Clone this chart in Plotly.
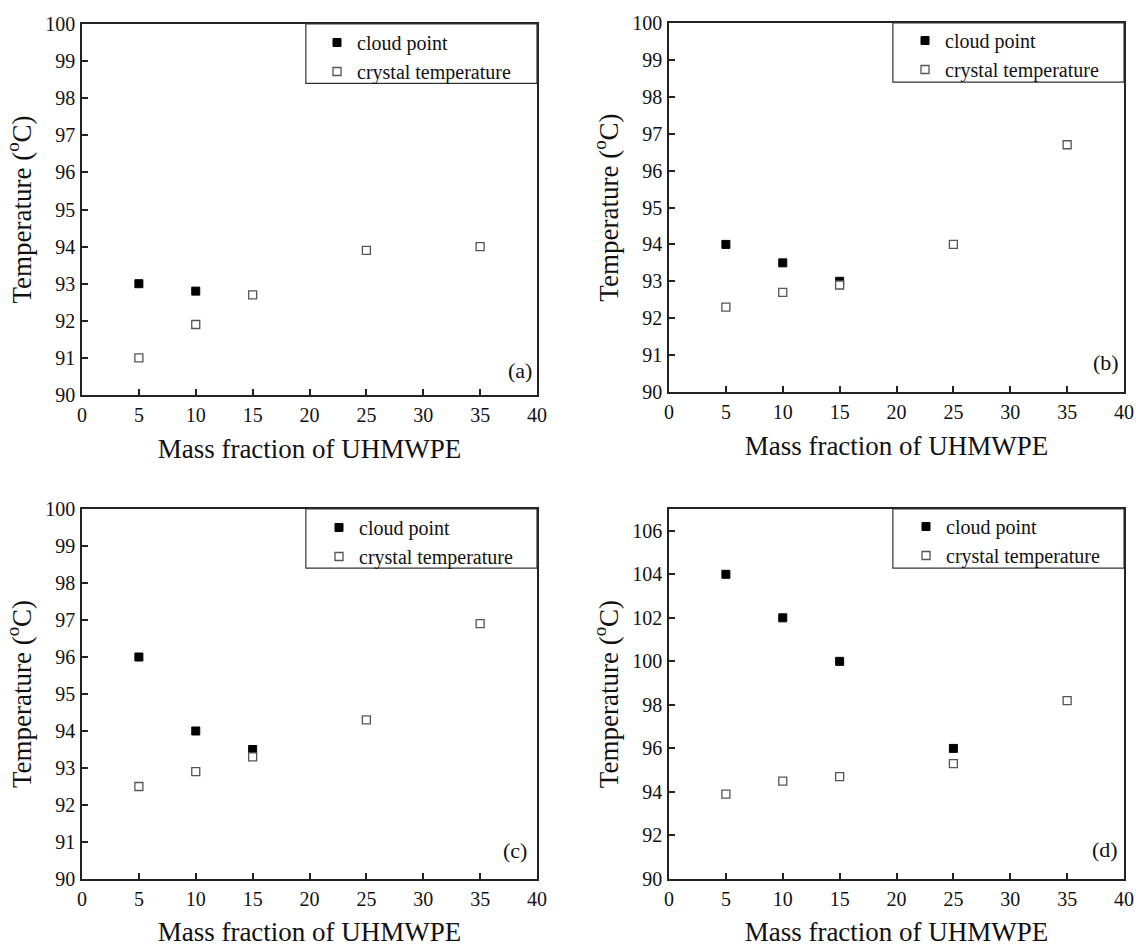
import plotly.graph_objects as go

# ---------------- data ----------------
mass_fraction = [5, 10, 15, 25, 35]

cloud_x_a = [5, 10]
cloud_y_a = [93.0, 92.8]
crystal_y_a = [91.0, 91.9, 92.7, 93.9, 94.0]

cloud_x_b = [5, 10, 15]
cloud_y_b = [94.0, 93.5, 93.0]
crystal_y_b = [92.3, 92.7, 92.9, 94.0, 96.7]

cloud_x_c = [5, 10, 15]
cloud_y_c = [96.0, 94.0, 93.5]
crystal_y_c = [92.5, 92.9, 93.3, 94.3, 96.9]

cloud_x_d = [5, 10, 15, 25]
cloud_y_d = [104.0, 102.0, 100.0, 96.0]
crystal_y_d = [93.9, 94.5, 94.7, 95.3, 98.2]

panel_labels = ["(a)", "(b)", "(c)", "(d)"]
x_title = "Mass fraction of UHMWPE"
y_title = "Temperature (<sup>o</sup>C)"
series_names = ["cloud point", "crystal temperature"]

W, H = 1136, 947
FONT = "Liberation Serif"

panels = [
    dict(cx=cloud_x_a, cy=cloud_y_a, ty=crystal_y_a, yr=[90, 100], dt=1,
         px=(82, 537), py=(24, 395), leg=(317, 23), lab=(0.963, 0.067)),
    dict(cx=cloud_x_b, cy=cloud_y_b, ty=crystal_y_b, yr=[90, 100], dt=1,
         px=(669, 1124), py=(23, 392), leg=(905, 21), lab=(0.960, 0.079)),
    dict(cx=cloud_x_c, cy=cloud_y_c, ty=crystal_y_c, yr=[90, 100], dt=1,
         px=(82, 537), py=(509, 879), leg=(319, 508), lab=(0.952, 0.078)),
    dict(cx=cloud_x_d, cy=cloud_y_d, ty=crystal_y_d, yr=[90, 107], dt=2,
         px=(669, 1124), py=(509, 879), leg=(906, 507), lab=(0.958, 0.081)),
]

fig = go.Figure()
layout = dict(
    width=W, height=H,
    margin=dict(l=0, r=0, t=0, b=0, autoexpand=False),
    paper_bgcolor="white", plot_bgcolor="white",
    font=dict(family=FONT, color="#111"),
)
shapes = []
annotations = []

for i, p in enumerate(panels):
    n = "" if i == 0 else str(i + 1)
    legname = "legend" + n
    xa, ya = "x" + n, "y" + n
    fig.add_trace(go.Scatter(
        x=p["cx"], y=p["cy"], mode="markers", name=series_names[0],
        xaxis=xa, yaxis=ya, legend=legname, cliponaxis=False,
        marker=dict(symbol="square", size=8, color="#000",
                    line=dict(color="#000", width=1)),
    ))
    fig.add_trace(go.Scatter(
        x=mass_fraction, y=p["ty"], mode="markers", name=series_names[1],
        xaxis=xa, yaxis=ya, legend=legname, cliponaxis=False,
        marker=dict(symbol="square", size=8, color="white",
                    line=dict(color="#555", width=1.3)),
    ))
    x0, x1 = p["px"]
    y0, y1 = p["py"]
    axis_common = dict(
        showgrid=False, zeroline=False, showline=True, linecolor="#222",
        linewidth=1.5, mirror=True, ticks="inside", ticklen=6,
        tickwidth=1.5, tickcolor="#222", automargin=False,
        tickfont=dict(family=FONT, size=20, color="#111"),
        ticklabelstandoff=1,
    )
    layout["xaxis" + n] = dict(
        axis_common, domain=[x0 / W, x1 / W], range=[0, 40], dtick=5,
        tick0=0, anchor=ya,
        title=dict(text=x_title, font=dict(family=FONT, size=27, color="#111"),
                   standoff=14),
    )
    layout["yaxis" + n] = dict(
        axis_common, domain=[1 - y1 / H, 1 - y0 / H], range=p["yr"],
        dtick=p["dt"], tick0=90, anchor=xa,
        title=dict(text=y_title, font=dict(family=FONT, size=27, color="#111"),
                   standoff=6),
    )
    lx, ly = p["leg"]
    layout[legname] = dict(
        x=lx / W, y=1 - ly / H, xanchor="left", yanchor="top",
        bgcolor="rgba(0,0,0,0)", borderwidth=0,
        font=dict(family=FONT, size=20, color="#111"),
        tracegroupgap=0,
    )
    shapes.append(dict(
        type="rect", xref=xa + " domain", yref=ya + " domain",
        x0=0.492, x1=1.0, y0=0.84, y1=1.0,
        line=dict(color="#333", width=1.2), fillcolor="rgba(0,0,0,0)",
    ))
    annotations.append(dict(
        text=panel_labels[i], xref=xa + " domain", yref=ya + " domain",
        x=p["lab"][0], y=p["lab"][1], xanchor="center", yanchor="middle",
        showarrow=False, font=dict(family=FONT, size=22, color="#111"),
    ))

layout["shapes"] = shapes
layout["annotations"] = annotations
fig.update_layout(**layout)
fig.write_html("out.html")
